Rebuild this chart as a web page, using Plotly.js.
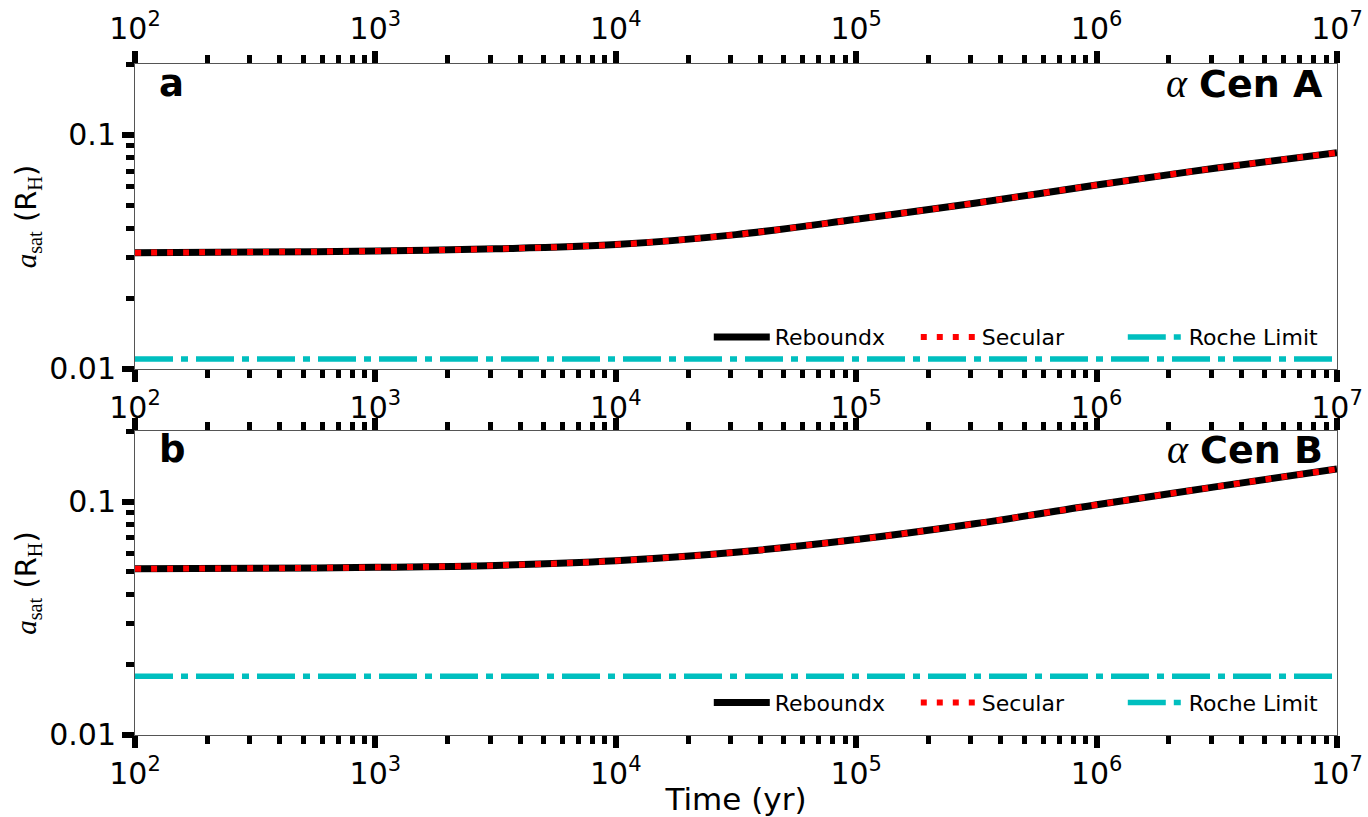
<!DOCTYPE html>
<html>
<head>
<meta charset="utf-8">
<script src="https://cdn.plot.ly/plotly-3.0.1.min.js"></script>
<style>html,body{margin:0;padding:0;background:#fff;}#chart{width:1368px;height:817px;}</style>
</head>
<body>
<div id="chart"></div>
<script>
// ---- data ----
const time = [1e2, 3.16e2, 1e3, 3.16e3, 1e4, 3.16e4, 1e5, 3.16e5, 1e6, 3.16e6, 1e7];
const reboundxA = [0.0314, 0.0316, 0.0319, 0.0326, 0.0340, 0.0375, 0.0436, 0.0512, 0.0611, 0.0722, 0.0840];
const secularA  = [0.0314, 0.0316, 0.0319, 0.0326, 0.0340, 0.0375, 0.0436, 0.0512, 0.0611, 0.0722, 0.0840];
const reboundxB = [0.0516, 0.0518, 0.0523, 0.0533, 0.0558, 0.0607, 0.0688, 0.0806, 0.0970, 0.1160, 0.1380];
const secularB  = [0.0516, 0.0518, 0.0523, 0.0533, 0.0558, 0.0607, 0.0688, 0.0806, 0.0970, 0.1160, 0.1380];
const rocheTime = [1e2, 1e7];
const rocheA = [0.01104, 0.01104];
const rocheB = [0.01786, 0.01786];

const xTickVals = [1e2, 1e3, 1e4, 1e5, 1e6, 1e7];
const xTickText = ['10<sup>2</sup>', '10<sup>3</sup>', '10<sup>4</sup>', '10<sup>5</sup>', '10<sup>6</sup>', '10<sup>7</sup>'];
const yTickVals = [0.01, 0.1];
const yTickText = ['0.01', '0.1'];
const yMinorVals = [0.02, 0.03, 0.04, 0.05, 0.06, 0.07, 0.08, 0.09, 0.2];
const minorMult = [2, 3, 4, 5, 6, 7, 8, 9];
const seriesNames = ['Reboundx', 'Secular', 'Roche Limit'];
const panelLabels = ['a', 'b'];
const starNames = ['Cen A', 'Cen B'];

// minor log ticks for the time axis
const xMinorVals = [];
for (let d = 2; d < 7; d++) for (const m of minorMult) xMinorVals.push(m * Math.pow(10, d));

const FONT = 'DejaVu Sans';
const tickFont = {family: FONT, size: 30, color: '#000'};
const minorX = {tickmode: 'array', tickvals: xMinorVals, ticks: 'outside', ticklen: 8, tickwidth: 5, tickcolor: '#000', showgrid: false};

function xAxis(anchor, titleText, mirror) {
  const ax = {
    type: 'log', range: [2, 7], anchor: anchor,
    tickmode: 'array', tickvals: xTickVals, ticktext: xTickText,
    ticks: 'outside', ticklen: 12, tickwidth: 6, tickcolor: '#000',
    minor: minorX,
    showline: true, linecolor: '#555', linewidth: 1, mirror: mirror,
    showgrid: false, zeroline: false, tickfont: tickFont
  };
  if (titleText) ax.title = {text: titleText, font: {family: FONT, size: 31, color: '#000'}, standoff: 2};
  return ax;
}
function yAxis(anchor, domain) {
  return {
    type: 'log', range: [-2, -0.697], domain: domain, anchor: anchor,
    tickmode: 'array', tickvals: yTickVals, ticktext: yTickText,
    ticks: 'outside', ticklen: 12, tickwidth: 6, tickcolor: '#000',
    minor: {tickmode: 'array', tickvals: yMinorVals, ticks: 'outside', ticklen: 8, tickwidth: 5, tickcolor: '#000', showgrid: false},
    showline: true, linecolor: '#555', linewidth: 1, mirror: true,
    showgrid: false, zeroline: false, tickfont: tickFont,
    title: {
      text: "<span style=\"font-family:'Liberation Serif'\"><i>a</i><sub>sat</sub></span> (R<sub><span style=\"font-family:'Liberation Serif'\">H</span></sub>)",
      font: {family: FONT, size: 29, color: '#000'}, standoff: 4
    }
  };
}

function panelTraces(xa, xaRoche, ya, leg, reb, sec, roche) {
  return [
    {x: time, y: reb, type: 'scatter', mode: 'lines', name: seriesNames[0], xaxis: xa, yaxis: ya, legend: leg,
     line: {color: '#000', width: 7, shape: 'spline', smoothing: 1}},
    {x: time, y: sec, type: 'scatter', mode: 'lines', name: seriesNames[1], xaxis: xa, yaxis: ya, legend: leg,
     line: {color: '#ff0000', width: 6, dash: '6px,10px', shape: 'spline', smoothing: 1}},
    {x: rocheTime, y: roche, type: 'scatter', mode: 'lines', name: seriesNames[2], xaxis: xaRoche, yaxis: ya, legend: leg,
     line: {color: '#00bfbf', width: 5.5, dash: '38px,8px,7px,8px'}}
  ];
}

const data = [].concat(
  panelTraces('x', 'x3', 'y', 'legend', reboundxA, secularA, rocheA),
  panelTraces('x2', 'x2', 'y2', 'legend2', reboundxB, secularB, rocheB)
);

const legendCommon = {
  orientation: 'h', xanchor: 'right', yanchor: 'middle',
  bgcolor: 'rgba(0,0,0,0)', font: {family: FONT, size: 22, color: '#000'},
  itemwidth: 56, entrywidth: 136, entrywidthmode: 'pixels', itemgap: 0, traceorder: 'normal'
};

function labelAnn(xref, yref, text, y) {
  return {xref: xref, yref: yref, x: 0.018, y: y, xanchor: 'left', yanchor: 'middle', showarrow: false,
          text: '<b>' + text + '</b>', font: {family: FONT, size: 37, color: '#000'}};
}
function starAnn(xref, yref, text, y) {
  return {xref: xref, yref: yref, x: 0.99, y: y, xanchor: 'right', yanchor: 'middle', showarrow: false,
          text: "<span style=\"font-family:'Liberation Serif';font-weight:normal;font-size:40px\"><i>α</i></span> <b>" + text + '</b>',
          font: {family: FONT, size: 38, color: '#000'}};
}

const layout = {
  width: 1368, height: 817,
  margin: {l: 135, r: 31, t: 64, b: 82, pad: 0},
  paper_bgcolor: '#fff', plot_bgcolor: '#fff',
  showlegend: true,
  xaxis: xAxis('y', null, true),
  yaxis: yAxis('x', [0.5455, 1]),
  xaxis2: xAxis('y2', 'Time (yr)', 'ticks'),
  yaxis2: yAxis('x2', [0, 0.4531]),
  xaxis3: {
    type: 'log', range: [2, 7], overlaying: 'x', side: 'top', anchor: 'y',
    tickmode: 'array', tickvals: xTickVals, ticktext: xTickText,
    ticks: 'outside', ticklen: 12, tickwidth: 6, tickcolor: '#000',
    minor: minorX,
    showline: false, showgrid: false, zeroline: false, tickfont: tickFont
  },
  legend: Object.assign({x: 0.994, y: 0.593}, legendCommon),
  legend2: Object.assign({x: 0.994, y: 0.048}, legendCommon),
  annotations: [
    labelAnn('x domain', 'y domain', panelLabels[0], 0.935),
    starAnn('x domain', 'y domain', starNames[0], 0.935),
    labelAnn('x2 domain', 'y2 domain', panelLabels[1], 0.94),
    starAnn('x2 domain', 'y2 domain', starNames[1], 0.94)
  ]
};

Plotly.newPlot('chart', data, layout, {displayModeBar: false, staticPlot: true});
</script>
</body>
</html>
